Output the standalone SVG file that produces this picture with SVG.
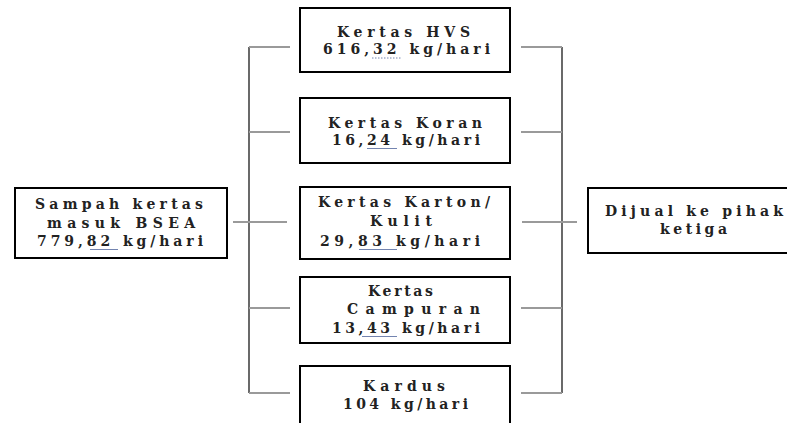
<svg xmlns="http://www.w3.org/2000/svg" width="787" height="423" viewBox="0 0 787 423">
<style>
.box{fill:#fff;stroke:#000;stroke-width:2}
.t{font-family:"DejaVu Serif","Liberation Serif",serif;font-size:14px;font-weight:bold;fill:#222}
.h{stroke:#9a9a9a;stroke-width:2;fill:none}
.v{stroke:#1a1a1a;stroke-width:1.3;fill:none}
.u{stroke:#7384b0;stroke-width:1;fill:none}
.ud{stroke:#7384b0;stroke-width:1;stroke-dasharray:1.5 1.5;fill:none}
</style>
<rect width="787" height="423" fill="#fff"/>
<g id="connectors">
<line class="v" x1="249" y1="47" x2="249" y2="393"/>
<line class="v" x1="562" y1="47" x2="562" y2="393"/>
<line class="h" x1="233" y1="222" x2="287" y2="222"/>
<line class="h" x1="249" y1="47" x2="290" y2="47"/>
<line class="h" x1="249" y1="132" x2="290" y2="132"/>
<line class="h" x1="249" y1="308" x2="290" y2="308"/>
<line class="h" x1="249" y1="393" x2="290" y2="393"/>
<line class="h" x1="521" y1="47" x2="562" y2="47"/>
<line class="h" x1="521" y1="132" x2="562" y2="132"/>
<line class="h" x1="522" y1="222" x2="577" y2="222"/>
<line class="h" x1="521" y1="308" x2="562" y2="308"/>
<line class="h" x1="521" y1="393" x2="562" y2="393"/>
</g>
<g id="sampah">
<rect class="box" x="15" y="188" width="212" height="70"/>
<text class="t" x="35" y="209" textLength="168" lengthAdjust="spacing">Sampah kertas</text>
<text class="t" x="47" y="228" textLength="148" lengthAdjust="spacing">masuk BSEA</text>
<text class="t" x="37" y="246" textLength="166" lengthAdjust="spacing">779,82 kg/hari</text>
<line class="u" x1="90" y1="249.5" x2="118" y2="249.5"/>
</g>
<g id="hvs">
<rect class="box" x="300" y="8" width="210" height="64"/>
<text class="t" x="337" y="37" textLength="133" lengthAdjust="spacing">Kertas HVS</text>
<text class="t" x="323" y="54" textLength="167" lengthAdjust="spacing">616,32 kg/hari</text>
<line class="ud" x1="372" y1="58" x2="402" y2="58"/>
</g>
<g id="koran">
<rect class="box" x="300" y="98" width="210" height="65"/>
<text class="t" x="328" y="128" textLength="154" lengthAdjust="spacing">Kertas Koran</text>
<text class="t" x="332" y="145" textLength="148" lengthAdjust="spacing">16,24 kg/hari</text>
<line class="u" x1="367" y1="148.5" x2="397" y2="148.5"/>
</g>
<g id="karton">
<rect class="box" x="300" y="187" width="210" height="72"/>
<text class="t" x="318" y="207" textLength="172" lengthAdjust="spacing">Kertas Karton/</text>
<text class="t" x="370" y="226" textLength="62" lengthAdjust="spacing">Kulit</text>
<text class="t" x="320" y="246" textLength="160" lengthAdjust="spacing">29,83 kg/hari</text>
<line class="u" x1="359" y1="249.5" x2="397" y2="249.5"/>
</g>
<g id="campuran">
<rect class="box" x="300" y="277" width="210" height="66"/>
<text class="t" x="368" y="296" textLength="65" lengthAdjust="spacing">Kertas</text>
<text class="t" x="347" y="314" textLength="133" lengthAdjust="spacing">Campuran</text>
<text class="t" x="332" y="333" textLength="148" lengthAdjust="spacing">13,43 kg/hari</text>
<line class="u" x1="362" y1="336.5" x2="397" y2="336.5"/>
</g>
<g id="kardus">
<rect class="box" x="300" y="366" width="210" height="80"/>
<text class="t" x="363" y="391" textLength="82" lengthAdjust="spacing">Kardus</text>
<text class="t" x="343" y="409" textLength="125" lengthAdjust="spacing">104 kg/hari</text>
</g>
<g id="dijual">
<rect class="box" x="588" y="188" width="230" height="65"/>
<text class="t" x="605" y="216" textLength="178" lengthAdjust="spacing">Dijual ke pihak</text>
<text class="t" x="660" y="234" textLength="67" lengthAdjust="spacing">ketiga</text>
</g>
</svg>
